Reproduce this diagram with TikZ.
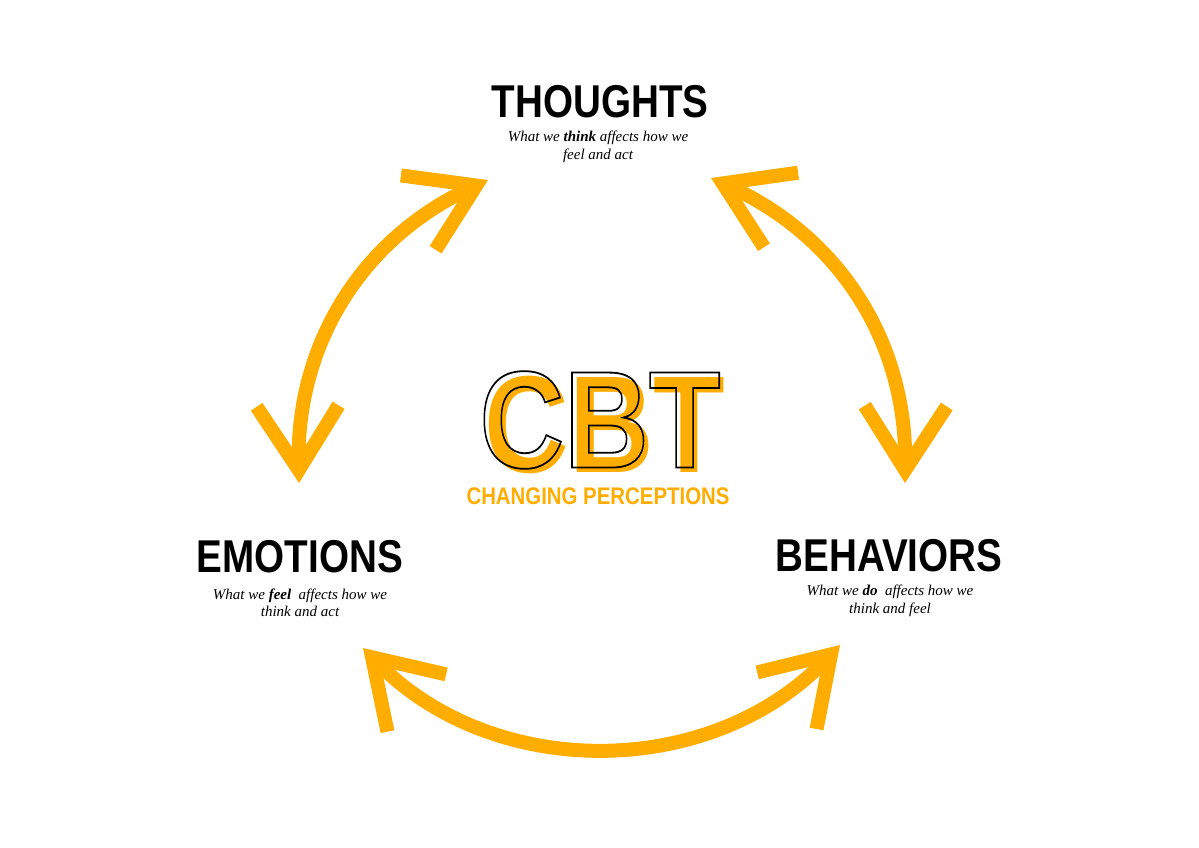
\documentclass[tikz,border=0pt]{standalone}
\usepackage{fontspec}
\setmainfont{Liberation Serif}
\setsansfont{Liberation Sans}
\usetikzlibrary{arrows.meta}
\definecolor{cbtor}{HTML}{FFAD00}
\newcommand{\outlinetext}[1]{\special{pdf:literal direct 1 Tr 1.8 w}#1\special{pdf:literal direct 0 Tr}}
\begin{document}
\begin{tikzpicture}[x=1pt,y=-1pt,
  arr/.style={draw=cbtor,line width=14pt,{Straight Barb[length=64pt,width=82pt]}-{Straight Barb[length=64pt,width=82pt]}},
  head/.style={font=\sffamily\bfseries\fontsize{46}{46}\selectfont,xscale=0.84,inner sep=0pt},
  sub/.style={font=\itshape\fontsize{15}{17.5}\selectfont,align=center,inner sep=0pt}]
\useasboundingbox (0,0) rectangle (1199,848);
\fill[white] (0,0) rectangle (1199,848);
\coordinate (t1) at (488,180);
\coordinate (e1) at (299,483);
\coordinate (t2) at (711,178);
\coordinate (b2) at (905,483);
\coordinate (e3) at (363,648);
\coordinate (b3) at (840,645);
\draw[arr] (t1) to[bend right=33] (e1);
\draw[arr] (t2) to[bend left=33] (b2);
\draw[arr] (e3) to[bend right=46] (b3);
\node[head] (th) at (600,102) {THOUGHTS};
\node[sub] (ths) at (598,147) {What we \textbf{think} affects how we\\feel and act};
\node[head] (em) at (300,557) {EMOTIONS};
\node[sub] (ems) at (300,603) {What we \textbf{feel}\ \ affects how we\\think and act};
\node[head] (be) at (889,556) {BEHAVIORS};
\node[sub] (bes) at (890,601) {What we \textbf{do}\ \ affects how we\\think and feel};
\node[font=\sffamily\bfseries\fontsize{138}{138}\selectfont,xscale=0.85,inner sep=0pt,text=cbtor] (cbts) at (605,425) {CBT};
\node[font=\sffamily\bfseries\fontsize{138}{138}\selectfont,xscale=0.85,inner sep=0pt] (cbt) at (600,420) {\outlinetext{CBT}};
\node[font=\sffamily\bfseries\fontsize{24}{24}\selectfont,xscale=0.85,inner sep=0pt,text=cbtor] (cp) at (598,496) {CHANGING PERCEPTIONS};
\end{tikzpicture}
\end{document}
